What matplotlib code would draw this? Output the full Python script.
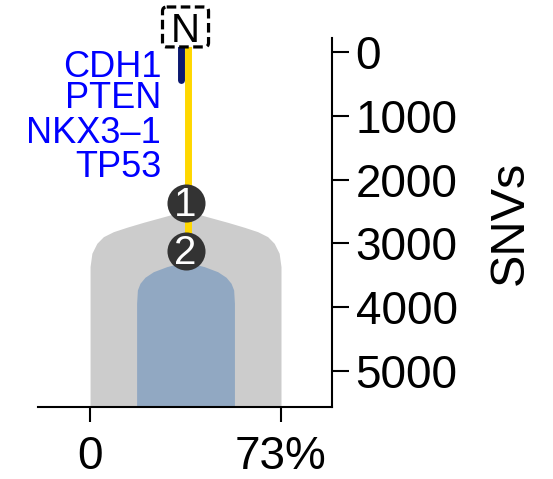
import numpy as np
from matplotlib import pyplot as plt
from matplotlib.patches import FancyBboxPatch

plt.rcParams["font.family"] = ["Liberation Sans", "DejaVu Sans"]

# Tick values and labels.
snv_ticks = [0, 1000, 2000, 3000, 4000, 5000]
ccf_ticks = [0, 73]
ccf_labels = ["0", "73%"]

# Clones: id, SNV depth of the node, colour.
clone_ids = ["1", "2"]
clone_snvs = [2371, 3118]
clone_colors = ["#cccccc", "#91a8c2"]

# Clone outlines: half width (%) at given SNV depth.
clone1_depth = [2507, 2554, 2597, 2669, 2747, 2816, 2894, 2998, 3154, 3364, 5700]
clone1_half = [0, 5.9, 9.7, 16.1, 22.5, 27.6, 31.4, 33.9, 35.8, 36.5, 36.5]
clone2_depth = [3302, 3322, 3364, 3443, 3530, 3624, 3729, 3938, 5700]
clone2_half = [0, 3.3, 7.2, 12.3, 15.5, 17.4, 18.4, 18.7, 18.7]

# Trunk and driver bar.
clone_center = 36.5
trunk_x = 37.6
trunk_top, trunk_bottom = -150, 3118
driver_x = 34.6
driver_top, driver_bottom = -80, 440

genes = ["CDH1", "PTEN", "NKX3\u20131", "TP53"]
gene_y = [387, 883, 1431, 1954]

fig = plt.figure(figsize=(5.53, 4.79), dpi=100)
ax = fig.add_axes([38 / 553, 72 / 479, 294 / 553, 369 / 479])

# Clone shapes.
for depth, half, col in [(clone1_depth, clone1_half, clone_colors[0]),
                         (clone2_depth, clone2_half, clone_colors[1])]:
    depth = np.array(depth)
    half = np.array(half)
    ax.fill_betweenx(depth, clone_center - half, clone_center + half,
                     color=col, lw=0, zorder=1)

# Trunk and driver bar.
ax.plot([trunk_x, trunk_x], [trunk_top, trunk_bottom],
        c="#ffd700", lw=5, zorder=2, solid_capstyle="butt", clip_on=False)
ax.plot([driver_x, driver_x], [driver_top, driver_bottom],
        c="#0b1870", lw=5, zorder=2, solid_capstyle="round", clip_on=False)

# Clone nodes.
for cid, snv in zip(clone_ids, clone_snvs):
    ax.scatter([clone_center], [snv], s=750, c="#333333", lw=0, zorder=3)
    ax.text(clone_center, snv + 30, cid, color="white", fontsize=29,
            ha="center", va="center", zorder=4)

# Gene labels.
for g, y in zip(genes, gene_y):
    ax.text(27.2, y, g, color="#0000ff", fontsize=26, ha="right",
            va="baseline", clip_on=False)

# Root node in a dashed box.
box = FancyBboxPatch((clone_center - 8.8, -392 - 313), 17.6, 626,
                     boxstyle="round,pad=0,rounding_size=1.6",
                     mutation_aspect=41, fc="white", ec="black", lw=2.3,
                     ls=(0, (3, 1.4)), clip_on=False, zorder=5)
ax.add_patch(box)
ax.text(clone_center, -392, "N", fontsize=29, ha="center", va="center_baseline",
        clip_on=False, zorder=6)

# Format plot.
ax.set_xlim(-19.9, 92.5)
ax.set_ylim(5563, -219)
ax.spines["top"].set_visible(False)
ax.spines["left"].set_visible(False)
ax.spines["right"].set_linewidth(1.5)
ax.spines["bottom"].set_linewidth(1.5)
ax.yaxis.tick_right()
ax.yaxis.set_label_position("right")
ax.set_yticks(snv_ticks)
ax.set_xticks(ccf_ticks)
ax.set_xticklabels(ccf_labels)
ax.tick_params(axis="x", direction="out", length=11, width=1.5,
               labelsize=33, pad=9)
ax.tick_params(axis="y", direction="out", length=12, width=1.5,
               labelsize=33, pad=5)
ax.set_ylabel("SNVs", fontsize=35, labelpad=22)

fig.savefig("out.png", dpi=100)
